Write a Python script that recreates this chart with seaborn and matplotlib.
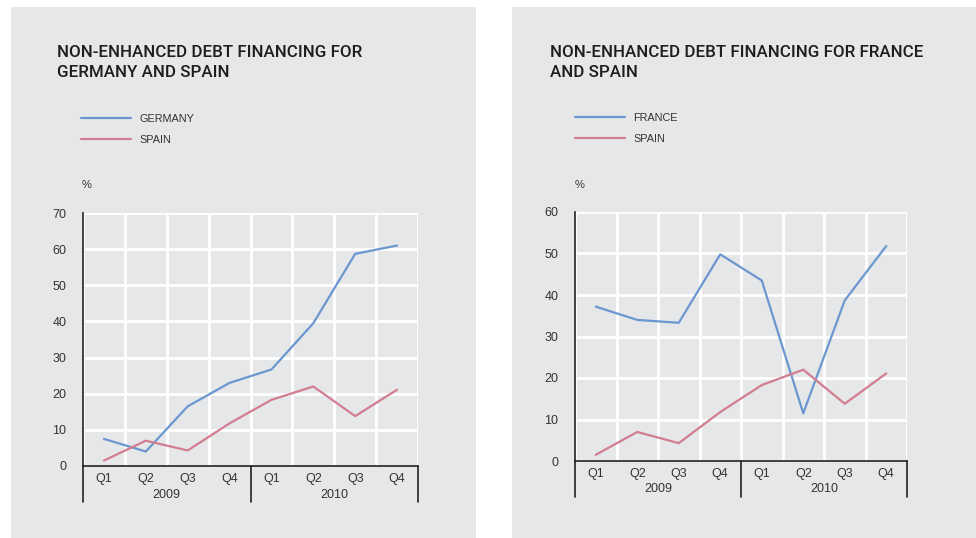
import matplotlib
matplotlib.use("Agg")
import matplotlib.pyplot as plt
import matplotlib.transforms as mtransforms
from matplotlib.patches import Rectangle
import seaborn as sns
import pandas as pd
import numpy as np

quarters = ["Q1", "Q2", "Q3", "Q4", "Q1", "Q2", "Q3", "Q4"]
years = ["2009", "2010"]
germany = [7.5, 4.0, 16.5, 23.0, 26.7, 39.5, 58.7, 61.0]
spain = [1.5, 7.0, 4.3, 11.8, 18.3, 22.0, 13.8, 21.1]
france = [37.2, 34.0, 33.3, 49.8, 43.5, 11.5, 38.7, 51.8]

title_left = "NON-ENHANCED DEBT FINANCING FOR\nGERMANY AND SPAIN"
title_right = "NON-ENHANCED DEBT FINANCING FOR FRANCE\nAND SPAIN"

BLUE = "#6b97d0"
PINK = "#d27d90"
PANEL = "#e6e7e8"
TXT = "#333333"

sns.set_theme(style="white")
plt.rcParams["font.family"] = ["Liberation Sans", "DejaVu Sans"]

W, H = 976, 538
fig = plt.figure(figsize=(W / 100, H / 100), dpi=100)
fig.patch.set_facecolor("white")

def fx(px):
    return px / W

def fy(py):
    return 1 - py / H

# panels
for (x0, x1) in [(11, 476), (512, 976)]:
    fig.patches.append(Rectangle((fx(x0), fy(538)), fx(x1 - x0), (538 - 7) / H,
                                 transform=fig.transFigure, facecolor=PANEL,
                                 edgecolor="none", zorder=-5))

def panel(ax_box, series, names, colors, ymax, title, title_xy, leg_xy, pct_xy):
    x0, x1, ytop, ybot = ax_box
    ax = fig.add_axes([fx(x0), fy(ybot), fx(x1 - x0), (ybot - ytop) / H])
    ax.set_facecolor(PANEL)
    rows = []
    for name, vals in zip(names, series):
        for i, v in enumerate(vals):
            rows.append({"idx": i, "value": v, "country": name})
    df = pd.DataFrame(rows)
    sns.lineplot(data=df, x="idx", y="value", hue="country", hue_order=names,
                 palette=colors, linewidth=1.6, ax=ax, legend=True, zorder=3)
    ax.set_xlim(-0.5, len(quarters) - 0.5)
    ax.set_ylim(0, ymax)
    ax.set_xticks(range(len(quarters)))
    ax.set_xticklabels(quarters)
    ax.set_xticks(np.arange(-0.5, len(quarters), 1.0), minor=True)
    ax.set_yticks(np.arange(0, ymax + 1, 10))
    ax.grid(False)
    ax.grid(True, which="minor", axis="x", color="white", linewidth=2.0, zorder=1)
    ax.grid(True, which="major", axis="y", color="white", linewidth=2.0, zorder=1)
    ax.set_axisbelow(True)
    ax.tick_params(axis="both", which="both", length=0, labelsize=9, labelcolor=TXT)
    ax.tick_params(axis="y", pad=12)
    ax.tick_params(axis="x", pad=5)
    for s in ["top", "right"]:
        ax.spines[s].set_visible(False)
    for s in ["left", "bottom"]:
        ax.spines[s].set_visible(True)
        ax.spines[s].set_color("#222222")
        ax.spines[s].set_linewidth(1.2)
    ax.set_xlabel("")
    ax.set_ylabel("")
    # year separators and labels
    trans = mtransforms.blended_transform_factory(ax.transData, ax.transAxes)
    drop = -36 / (ybot - ytop)
    for xb in [-0.5, 3.5, 7.5]:
        ax.plot([xb, xb], [0, drop], transform=trans, color="#222222",
                linewidth=1.2, clip_on=False, zorder=5)
    for k, yr in enumerate(years):
        ax.text(1.5 + 4 * k, -28.5 / (ybot - ytop), yr, transform=trans,
                ha="center", va="center", fontsize=9, color=TXT)
    # title
    fig.text(fx(title_xy[0]), fy(title_xy[1]), title, ha="left", va="top",
             fontsize=12.2, color="#1e1e1e", linespacing=1.4,
             family=["Roboto", "Liberation Sans"], fontweight="medium")
    # legend
    leg = ax.legend(loc="upper left", bbox_to_anchor=(fx(leg_xy[0]), fy(leg_xy[1])),
                    bbox_transform=fig.transFigure, frameon=False, fontsize=7.8,
                    handlelength=4.6, handletextpad=0.8, labelspacing=1.0,
                    borderpad=0, borderaxespad=0)
    for t in leg.get_texts():
        t.set_color(TXT)
    for h in leg.get_lines():
        h.set_linewidth(1.6)
    fig.text(fx(pct_xy[0]), fy(pct_xy[1]), "%", ha="left", va="center",
             fontsize=8, color=TXT)
    return ax

panel((83, 418, 213, 466), [germany, spain], ["GERMANY", "SPAIN"], [BLUE, PINK],
      70, title_left, (57, 45), (81, 114), (82, 185))
panel((575, 907, 212, 461), [france, spain], ["FRANCE", "SPAIN"], [BLUE, PINK],
      60, title_right, (550, 45), (575, 113), (575, 185))

fig.savefig("out.png", dpi=100, facecolor=fig.get_facecolor())
